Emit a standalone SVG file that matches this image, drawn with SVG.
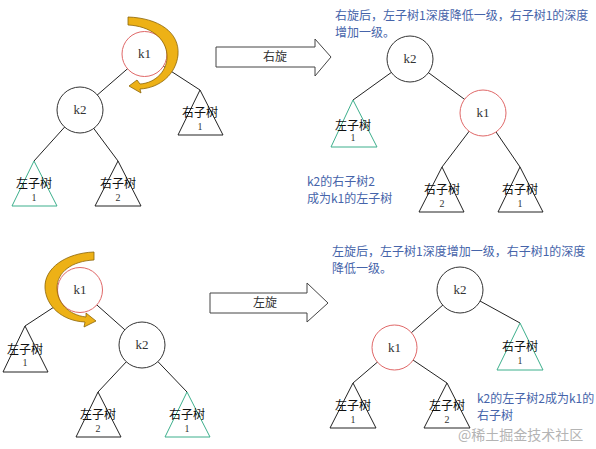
<svg xmlns="http://www.w3.org/2000/svg" width="596" height="449" viewBox="0 0 596 449">
<style>
.edge{stroke:#222;stroke-width:1;fill:none}
.nb{fill:#fff;stroke:#333;stroke-width:1}
.nr{fill:#fff;stroke:#E06868;stroke-width:1}
.tb{fill:none;stroke:#222;stroke-width:1}
.tg{fill:none;stroke:#3DAF8C;stroke-width:1}
.kt{font-family:"Liberation Serif",serif;font-size:13px;fill:#333;text-anchor:middle}
.lt{font-family:"Noto Sans CJK SC","Noto Sans CJK JP",sans-serif;font-size:12px;fill:#111;text-anchor:middle}
.dt{font-family:"Liberation Serif",serif;font-size:10px;fill:#333;text-anchor:middle}
.bt{font-family:"Noto Sans CJK SC","Noto Sans CJK JP",sans-serif;font-size:12px;fill:#4664AA}
.yarrow{fill:#EDB116;stroke:#8B6508;stroke-width:0.8}
.barrow{fill:#fff;stroke:#444;stroke-width:1}
.at{font-family:"Noto Sans CJK SC","Noto Sans CJK JP",sans-serif;font-size:12px;fill:#333;text-anchor:middle}
</style>
<rect width="596" height="449" fill="#fff"/>
<g id="connectors">
<line class="edge" x1="144.5" y1="54" x2="80" y2="110"/>
<line class="edge" x1="144.5" y1="54" x2="200" y2="90"/>
<line class="edge" x1="80" y1="110" x2="34" y2="161"/>
<line class="edge" x1="80" y1="110" x2="118" y2="161"/>
<line class="edge" x1="410" y1="59" x2="353" y2="100"/>
<line class="edge" x1="410" y1="59" x2="483" y2="113"/>
<line class="edge" x1="483" y1="113" x2="442" y2="167"/>
<line class="edge" x1="483" y1="113" x2="520" y2="167"/>
<line class="edge" x1="80" y1="290" x2="25" y2="326"/>
<line class="edge" x1="80" y1="290" x2="142" y2="345"/>
<line class="edge" x1="142" y1="345" x2="98" y2="392"/>
<line class="edge" x1="142" y1="345" x2="187" y2="392"/>
<line class="edge" x1="460" y1="290" x2="394.5" y2="347.5"/>
<line class="edge" x1="460" y1="290" x2="520" y2="323"/>
<line class="edge" x1="394.5" y1="347.5" x2="353" y2="383"/>
<line class="edge" x1="394.5" y1="347.5" x2="447" y2="383"/>
</g>
<g id="tl-k1"><circle class="nr" cx="144.5" cy="54" r="22.5"/><text class="kt" x="144.5" y="58">k1</text></g>
<g id="tl-k2"><circle class="nb" cx="80" cy="110" r="23"/><text class="kt" x="80" y="114">k2</text></g>
<g id="tl-t1"><polygon class="tg" points="34,161 12,206 57,206"/><text class="lt" x="34" y="188">左子树</text><text class="dt" x="34" y="201">1</text></g>
<g id="tl-t2"><polygon class="tb" points="118,161 95,206 141,206"/><text class="lt" x="118" y="188">右子树</text><text class="dt" x="118" y="201">2</text></g>
<g id="tl-t3"><polygon class="tb" points="200,90 178,135 223,135"/><text class="lt" x="200" y="117">右子树</text><text class="dt" x="200" y="130">1</text></g>
<g id="tl-rot"><path class="yarrow" d="M128,17 C158,18 180,32 178,55 C176,74 160,88 140,89 L141,93 L129,86 L137,80 L140,84 C156,83 168,70 167,55 C166,38 150,26 128,25 Z"/></g>
<g id="arrow-right"><path class="barrow" d="M216,47 L315,47 L315,39 L331,57 L315,76 L315,67 L216,67 Z"/><text class="at" x="275" y="61">右旋</text></g>
<g id="tr-note"><text class="bt" x="335" y="20">右旋后，左子树1深度降低一级，右子树1的深度</text><text class="bt" x="335" y="37">增加一级。</text></g>
<g id="tr-k2"><circle class="nb" cx="410" cy="59" r="23"/><text class="kt" x="410" y="63">k2</text></g>
<g id="tr-k1"><circle class="nr" cx="483" cy="113" r="23"/><text class="kt" x="483" y="117">k1</text></g>
<g id="tr-t1"><polygon class="tg" points="353,100 331,147 377,147"/><text class="lt" x="353" y="130">左子树</text><text class="dt" x="353" y="141">1</text></g>
<g id="tr-t2"><polygon class="tb" points="442,167 419,212 464,212"/><text class="lt" x="442" y="194">右子树</text><text class="dt" x="442" y="207">2</text></g>
<g id="tr-t3"><polygon class="tb" points="520,167 498,212 543,212"/><text class="lt" x="520" y="194">右子树</text><text class="dt" x="520" y="207">1</text></g>
<g id="tr-note2"><text class="bt" x="307" y="186">k2的右子树2</text><text class="bt" x="307" y="203">成为k1的左子树</text></g>
<g id="bl-k1"><circle class="nr" cx="80" cy="290" r="22.5"/><text class="kt" x="80" y="294">k1</text></g>
<g id="bl-k2"><circle class="nb" cx="142" cy="345" r="23"/><text class="kt" x="142" y="349">k2</text></g>
<g id="bl-t1"><polygon class="tb" points="25,326 3,372 48,372"/><text class="lt" x="25" y="354">左子树</text><text class="dt" x="25" y="366">1</text></g>
<g id="bl-t2"><polygon class="tb" points="98,392 76,437 121,437"/><text class="lt" x="98" y="419">左子树</text><text class="dt" x="98" y="432">2</text></g>
<g id="bl-t3"><polygon class="tg" points="187,392 165,437 210,437"/><text class="lt" x="187" y="419">右子树</text><text class="dt" x="187" y="432">1</text></g>
<g id="bl-rot"><path class="yarrow" d="M94,252 C66,253 44,268 45,288 C46,306 62,321 85,322 L84,327 L96,321 L86,313 L86,317 C68,315 57,302 57,288 C57,272 72,261 94,260 Z"/></g>
<g id="arrow-left"><path class="barrow" d="M210,293 L307,293 L307,283 L328,303 L307,322 L307,313 L210,313 Z"/><text class="at" x="265" y="307">左旋</text></g>
<g id="br-note"><text class="bt" x="332" y="256">左旋后，左子树1深度增加一级，右子树1的深度</text><text class="bt" x="332" y="273">降低一级。</text></g>
<g id="br-k2"><circle class="nb" cx="460" cy="290" r="23"/><text class="kt" x="460" y="294">k2</text></g>
<g id="br-k1"><circle class="nr" cx="394.5" cy="347.5" r="22.5"/><text class="kt" x="394.5" y="351.5">k1</text></g>
<g id="br-t1"><polygon class="tb" points="353,383 330,428 376,428"/><text class="lt" x="353" y="410">左子树</text><text class="dt" x="353" y="423">1</text></g>
<g id="br-t2"><polygon class="tb" points="447,383 424,428 470,428"/><text class="lt" x="447" y="410">左子树</text><text class="dt" x="447" y="423">2</text></g>
<g id="br-t3"><polygon class="tg" points="520,323 497,370 543,370"/><text class="lt" x="520" y="351">右子树</text><text class="dt" x="520" y="364">1</text></g>
<g id="br-note2"><text class="bt" x="477" y="403">k2的左子树2成为k1的</text><text class="bt" x="477" y="420">右子树</text></g>
<text x="458" y="440" font-family="Noto Sans CJK SC,sans-serif" font-size="14" fill="#B4B4B4">@稀土掘金技术社区</text>
</svg>
